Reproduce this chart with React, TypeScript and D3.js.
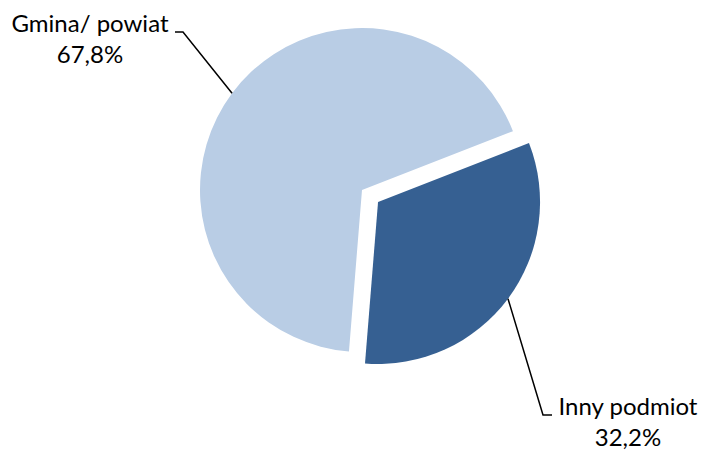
import React from "react";
import * as d3 from "d3";

const categories = ["Inny podmiot", "Gmina/ powiat"];
const values = [32.2, 67.8];
const valueLabels = ["32,2%", "67,8%"];
const colors = ["#366092", "#B9CDE5"];

export default function App() {
  const W = 704, H = 450;
  const cx = 362, cy = 190, r = 162;
  const explode = [20, 0];
  const start = (68.7 * Math.PI) / 180;
  const pie = d3.pie<number>().sort(null).startAngle(start).endAngle(start + 2 * Math.PI);
  const arcs = pie(values);
  const arcGen = d3.arc<d3.PieArcDatum<number>>().innerRadius(0).outerRadius(r);
  const labelLayout = [
    { elbow: [543, 415], hEnd: 552, tx: 628, ty: 415, anchor: "middle" },
    { elbow: [183, 32], hEnd: 175, tx: 90, ty: 32, anchor: "middle" },
  ];
  const font = "Lato, 'Noto Sans', sans-serif";
  return (
    <div style={{ position: "absolute", left: 0, top: 0 }}>
      <svg width={W} height={H} style={{ display: "block" }}>
        <rect width={W} height={H} fill="#fff" />
        {arcs.map((a, i) => {
          const mid = (a.startAngle + a.endAngle) / 2;
          const ox = Math.sin(mid) * explode[i];
          const oy = -Math.cos(mid) * explode[i];
          const px = cx + ox + Math.sin(mid) * r;
          const py = cy + oy - Math.cos(mid) * r;
          const L = labelLayout[i];
          return (
            <g key={categories[i]}>
              <path d={arcGen(a) || ""} transform={`translate(${cx + ox},${cy + oy})`} fill={colors[i]} />
              <polyline
                points={`${px},${py} ${L.elbow[0]},${L.elbow[1]} ${L.hEnd},${L.elbow[1]}`}
                fill="none"
                stroke="#000"
                strokeWidth={1.5}
              />
              <text x={L.tx} y={L.ty} textAnchor={L.anchor as any} fontFamily={font} fontSize={24} fill="#000">
                {categories[i]}
              </text>
              <text x={L.tx} y={L.ty + 31} textAnchor={L.anchor as any} fontFamily={font} fontSize={24} fill="#000">
                {valueLabels[i]}
              </text>
            </g>
          );
        })}
      </svg>
    </div>
  );
}
